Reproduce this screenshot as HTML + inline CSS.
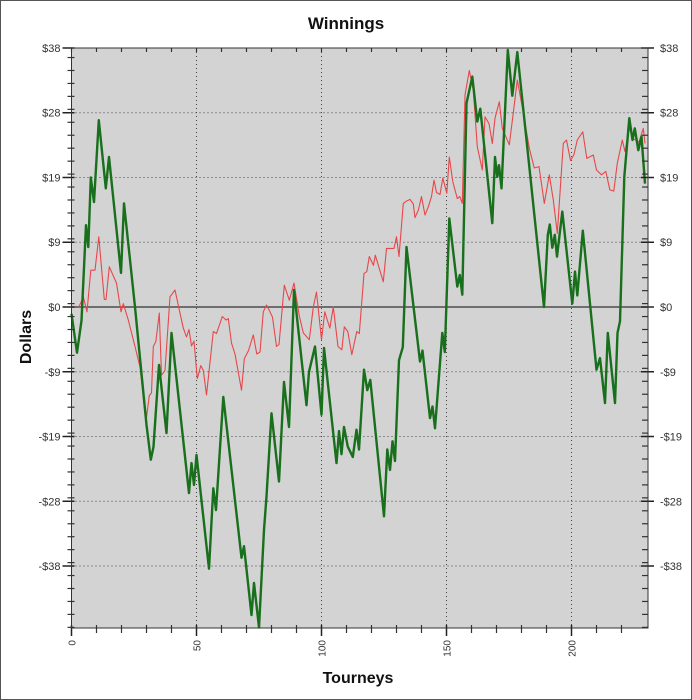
<!DOCTYPE html>
<html><head><meta charset="utf-8"><style>
html,body{margin:0;padding:0;background:#fff}
svg{display:block;font-family:"Liberation Sans",sans-serif}
</style></head><body>
<svg id="chart" width="692" height="700">
<rect x="0.5" y="0.5" width="691" height="699" fill="#fff" stroke="#555"/>
<text x="346" y="29" text-anchor="middle" font-size="17" font-weight="bold" fill="#111">Winnings</text>
<text transform="translate(31,337) rotate(-90)" text-anchor="middle" font-size="16" font-weight="bold" fill="#111">Dollars</text>
<text x="358" y="683" text-anchor="middle" font-size="16" font-weight="bold" fill="#111">Tourneys</text>
<rect x="71.5" y="48" width="576.5" height="580" fill="#d3d3d3"/>
<g id="grid"></g><g id="series"></g><g id="axes"></g>
</svg>
<script>
const yTickValues=[38,28.5,19,9.5,0,-9.5,-19,-28.5,-38];
const yTickLabels=["$38","$28","$19","$9","$0","-$9","-$19","-$28","-$38"];
const xTickValues=[0,50,100,150,200];
const xTickLabels=["0","50","100","150","200"];
const greenT=[0,2.2,4,5.8,6.7,7.7,9,10.9,13.7,15,19.8,21,25.4,30,31.7,32.8,35,38,40,47,48,49,50,55,56.7,57.8,60.7,68,69,72,73,75,77,78,80,83,85,87,89,94,95,97.4,100,101,106,107,108,109,110.5,112.5,114,115,117,118.3,119.5,125,126.3,127.4,128.4,129.4,131,132.5,134,139.4,140.4,143.4,144.4,145.4,148.3,149.3,151.1,154.3,155.3,156.3,158,160.3,162.3,163.5,168.3,169.4,170.3,171,172,174.5,176.3,178.3,189,190.5,191.3,192.3,193.3,194.2,196.3,200.3,201.4,202.3,204.5,210,211.4,213.4,214.5,217.4,218.4,219.4,221.1,223.1,224.4,225.3,226.7,228,229.4];
const greenV=[-1,-6.7,-2,12,8.8,19,15.4,27.4,17.4,22,5,15.2,0,-17.3,-22.4,-20.5,-8.5,-18.5,-3.8,-27.3,-22.9,-26.1,-21.7,-38.4,-26.6,-29.8,-13.2,-36.8,-35.1,-45.2,-40.5,-47,-32.7,-27.8,-15.6,-25.6,-11,-17.6,2.5,-14.4,-9.5,-5.8,-15.8,-6,-22.9,-18.2,-21.6,-17.6,-20.5,-22,-18,-20.9,-9.2,-12.2,-10.7,-30.7,-20.9,-23.9,-19.7,-22.6,-7.8,-5.9,8.8,-8,-6.4,-16.3,-14.6,-17.8,-3.8,-6.6,13,3,4.7,1.8,29.9,33.8,27.2,29.1,12.3,22,19.1,20.8,17.4,37.7,31,37.4,0,10.6,12.1,8.7,10.6,7.4,14,0.5,5.2,1.7,11.2,-9.2,-7.5,-14.1,-3.8,-14.1,-3.8,-2.1,19.1,27.7,24.5,26.2,23,25,18.1];
const redT=[3,4.7,6.2,7.7,9.4,10.9,13.1,13.8,15.1,18,19.8,20.7,22.7,25.4,27.4,29.8,31.1,32,32.7,33.7,35.1,36,37.4,39.4,41.4,43.4,44.7,46,47,48,49,50.3,51.7,52.7,54,56.7,58,60.3,61.8,62.7,64,65.4,68,69.1,70.8,72.7,74.1,75.4,76.7,78,79.4,80.4,82,83,85.1,87.1,89,91.1,92.7,95.1,96.7,98,100,101.3,103.3,104.7,106.6,108.1,109.1,110.5,112.1,114.1,115.1,117,118.1,119.1,120.8,121.5,124.7,126,127.2,129,130,131,132.7,133.8,135.4,136.7,137.4,138.7,140,141.4,142.7,144,145,146,147.4,148.5,150.1,151.1,152.5,154.3,155.3,156.3,157.4,159.1,160.7,162.3,164.3,165.4,167,168.3,169.4,171.1,172.3,175.1,176.7,178.3,180.7,183.1,185.1,187,189.1,191.1,192.7,194.3,196.7,198,199.6,200.9,202.3,204.5,206.1,208.7,210,212,213.7,215.3,216.9,218.3,220.3,221.4,223.1,224.7,227,228.7,229.4];
const redV=[0,1.5,-0.7,5.4,5.4,10.3,1.1,1.1,5.9,3.5,-0.7,0.5,-1.9,-5.8,-8.8,-16.8,-13,-12.6,-5.8,-5.1,-0.9,-10,-9.3,1.5,2.5,-0.9,-3.1,-4.4,-3.3,-5.7,-5,-10.5,-8.6,-9.3,-12.9,-3.6,-3.9,-1.4,-1.9,-1.7,-5.3,-6.9,-12.2,-7.6,-6.4,-4.1,-6.9,-6.6,-0.7,0.3,-0.7,-1.5,-5.8,-5.5,3.2,1,3.5,-1.3,-3.8,-4.8,0,2.2,-4.8,-0.7,-3.1,0,-5.8,-6.3,-2.9,-3.6,-7,-3.6,-3.9,4.9,5.2,7.4,6.1,7.6,3.7,8.6,8.6,8.6,10.3,7.4,15.2,15.5,15.8,15.1,13.1,14.2,16.2,13.5,14.7,16.2,18.6,16.8,16.5,18.9,16.7,22,18.4,15.9,16.2,15.2,31.1,34.7,31.8,23.5,20.1,27.9,26.9,24,27.7,30.1,26.2,23.8,28.5,33.3,28.5,23.3,20.4,20.6,15.2,19.4,15.7,10.8,24,24.5,21.5,22.3,24.5,25.7,21.8,22.3,20.1,19.4,19.9,17.2,17,21.1,24.5,22.8,26.2,24.7,24.2,26.2,24];

const L=71.5,R=648,T=48,B=628;
function xs(t){return L+2.5*t;}
function ys(v){return 307-6.816*v;}
const NS="http://www.w3.org/2000/svg";
function mk(tag,parent,attrs){const e=document.createElementNS(NS,tag);for(const k in attrs)e.setAttribute(k,attrs[k]);parent.appendChild(e);return e;}
const grid=document.getElementById('grid'),axes=document.getElementById('axes'),series=document.getElementById('series');

yTickValues.forEach((v,i)=>{
  const y=ys(v);
  if(v!==0){
    const g=mk('line',grid,{x1:L,x2:R,y1:y,y2:y,stroke:'#444','stroke-dasharray':'1,3','stroke-width':1});
    
    
  }
  const t1=mk('line',axes,{x1:L-9,x2:L+3,y1:y,y2:y,stroke:'#222','stroke-width':1.5});
  
  
  const t2=mk('line',axes,{x1:R-7,x2:R+6,y1:y,y2:y,stroke:'#222','stroke-width':1.5});
  
  
  const a=mk('text',axes,{x:L-11,y:y+4,'text-anchor':'end','font-size':11,fill:'#333'});
  a.textContent=yTickLabels[i];
  
  
  const b=mk('text',axes,{x:R+12,y:y+4,'font-size':11,fill:'#333'});
  b.textContent=yTickLabels[i];
  
  
});
for(let v=-47;v<=38;v+=1.9){
  const y=ys(v); if(y<T||y>B)continue;
  const m=mk('line',axes,{x1:L-4,x2:L+3,y1:y,y2:y,stroke:'#333','stroke-width':1.2});
  
  
  const m2=mk('line',axes,{x1:R-6,x2:R,y1:y,y2:y,stroke:'#333','stroke-width':1.2});
  
  
}
xTickValues.forEach((t,i)=>{
  const x=xs(t);
  if(t!==0){
    const g=mk('line',grid,{x1:x,x2:x,y1:T,y2:B,stroke:'#444','stroke-dasharray':'1,3','stroke-width':1});
    
    
  }
  const tk=mk('line',axes,{x1:x,x2:x,y1:B-3,y2:B+8,stroke:'#222','stroke-width':1.5});
  
  
  const lb=mk('text',axes,{transform:`translate(${x+4},${B+12}) rotate(-90)`,'text-anchor':'end','font-size':10,fill:'#333'});
  lb.textContent=xTickLabels[i];
  
  
});
for(let t=10;t<=229;t+=10){
  if(t%50===0)continue;
  const x=xs(t);
  const m=mk('line',axes,{x1:x,x2:x,y1:B-3,y2:B+5,stroke:'#333','stroke-width':1.2});
  
  
}
for(let t=0;t<=229;t+=10){
  const x=xs(t);
  const m=mk('line',axes,{x1:x,x2:x,y1:T,y2:T+4,stroke:'#333','stroke-width':1.2});
  
  
}
const ax=mk('path',axes,{d:`M${L},${T}V${B}H${R}V${T}H${L}`,fill:'none',stroke:'#333','stroke-width':1});


const zl=mk('line',grid,{x1:L,x2:R,y1:ys(0),y2:ys(0),stroke:'#333','stroke-width':1.2});



function pts(T_,V_){return T_.map((t,i)=>xs(t).toFixed(1)+','+ys(V_[i]).toFixed(1)).join(' ');}
const red=mk('polyline',series,{points:pts(redT,redV),fill:'none',stroke:'#e8474a','stroke-width':1.1,'stroke-linejoin':'round'});


const green=mk('polyline',series,{points:pts(greenT,greenV),fill:'none',stroke:'#186f1c','stroke-width':2.4,'stroke-linejoin':'round'});


</script>
</body></html>
